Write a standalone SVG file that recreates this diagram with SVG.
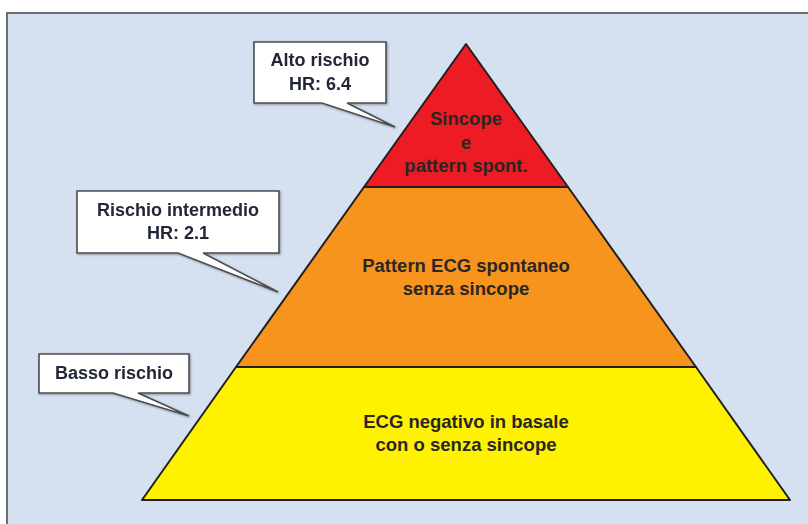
<svg xmlns="http://www.w3.org/2000/svg" width="808" height="524" viewBox="0 0 808 524">
<style>
.pt{font-family:"Liberation Sans",Arial,sans-serif;font-weight:bold;font-size:18.5px;fill:#2a2623;text-anchor:middle}
.ct{font-family:"Liberation Sans",Arial,sans-serif;font-weight:bold;font-size:18px;fill:#222838;text-anchor:middle}
.lvl{stroke:#231f20;stroke-width:2;stroke-linejoin:round}
.box{fill:#ffffff;stroke:#4d4d4f;stroke-width:1.6;stroke-linejoin:miter}
</style>
<defs>
<filter id="sh" x="-10%" y="-10%" width="130%" height="130%">
<feDropShadow dx="1" dy="1" stdDeviation="0.8" flood-color="#000" flood-opacity="0.35"/>
</filter>
</defs>
<rect x="0" y="0" width="808" height="524" fill="#ffffff"/>
<rect x="7" y="13" width="820" height="530" fill="#d5e0f0" stroke="#6d6e71" stroke-width="2"/>
<g id="level-top">
<polygon class="lvl" points="466,44 568,187 364,187" fill="#ed1c24"/>
<text class="pt" x="466" y="125">Sincope</text>
<text class="pt" x="466" y="149">e</text>
<text class="pt" x="466" y="172">pattern spont.</text>
</g>
<g id="level-mid">
<polygon class="lvl" points="364,187 568,187 696,367 236,367" fill="#f7941d"/>
<text class="pt" x="466" y="272">Pattern ECG spontaneo</text>
<text class="pt" x="466" y="295">senza sincope</text>
</g>
<g id="level-bottom">
<polygon class="lvl" points="236,367 696,367 790,500 142,500" fill="#fff200"/>
<text class="pt" x="466" y="428">ECG negativo in basale</text>
<text class="pt" x="466" y="451">con o senza sincope</text>
</g>
<g id="callout-alto" filter="url(#sh)">
<path class="box" d="M254,42 H386 V103 H347 L395,127 L322,103 H254 Z"/>
<text class="ct" x="320" y="66">Alto rischio</text>
<text class="ct" x="320" y="90">HR: 6.4</text>
</g>
<g id="callout-intermedio" filter="url(#sh)">
<path class="box" d="M77,191 H279 V253 H203 L278,292 L178,253 H77 Z"/>
<text class="ct" x="178" y="216">Rischio intermedio</text>
<text class="ct" x="178" y="239">HR: 2.1</text>
</g>
<g id="callout-basso" filter="url(#sh)">
<path class="box" d="M39,354 H189 V393 H138 L189,416 L113,393 H39 Z"/>
<text class="ct" x="114" y="379">Basso rischio</text>
</g>
<g id="connectors"/>
</svg>
